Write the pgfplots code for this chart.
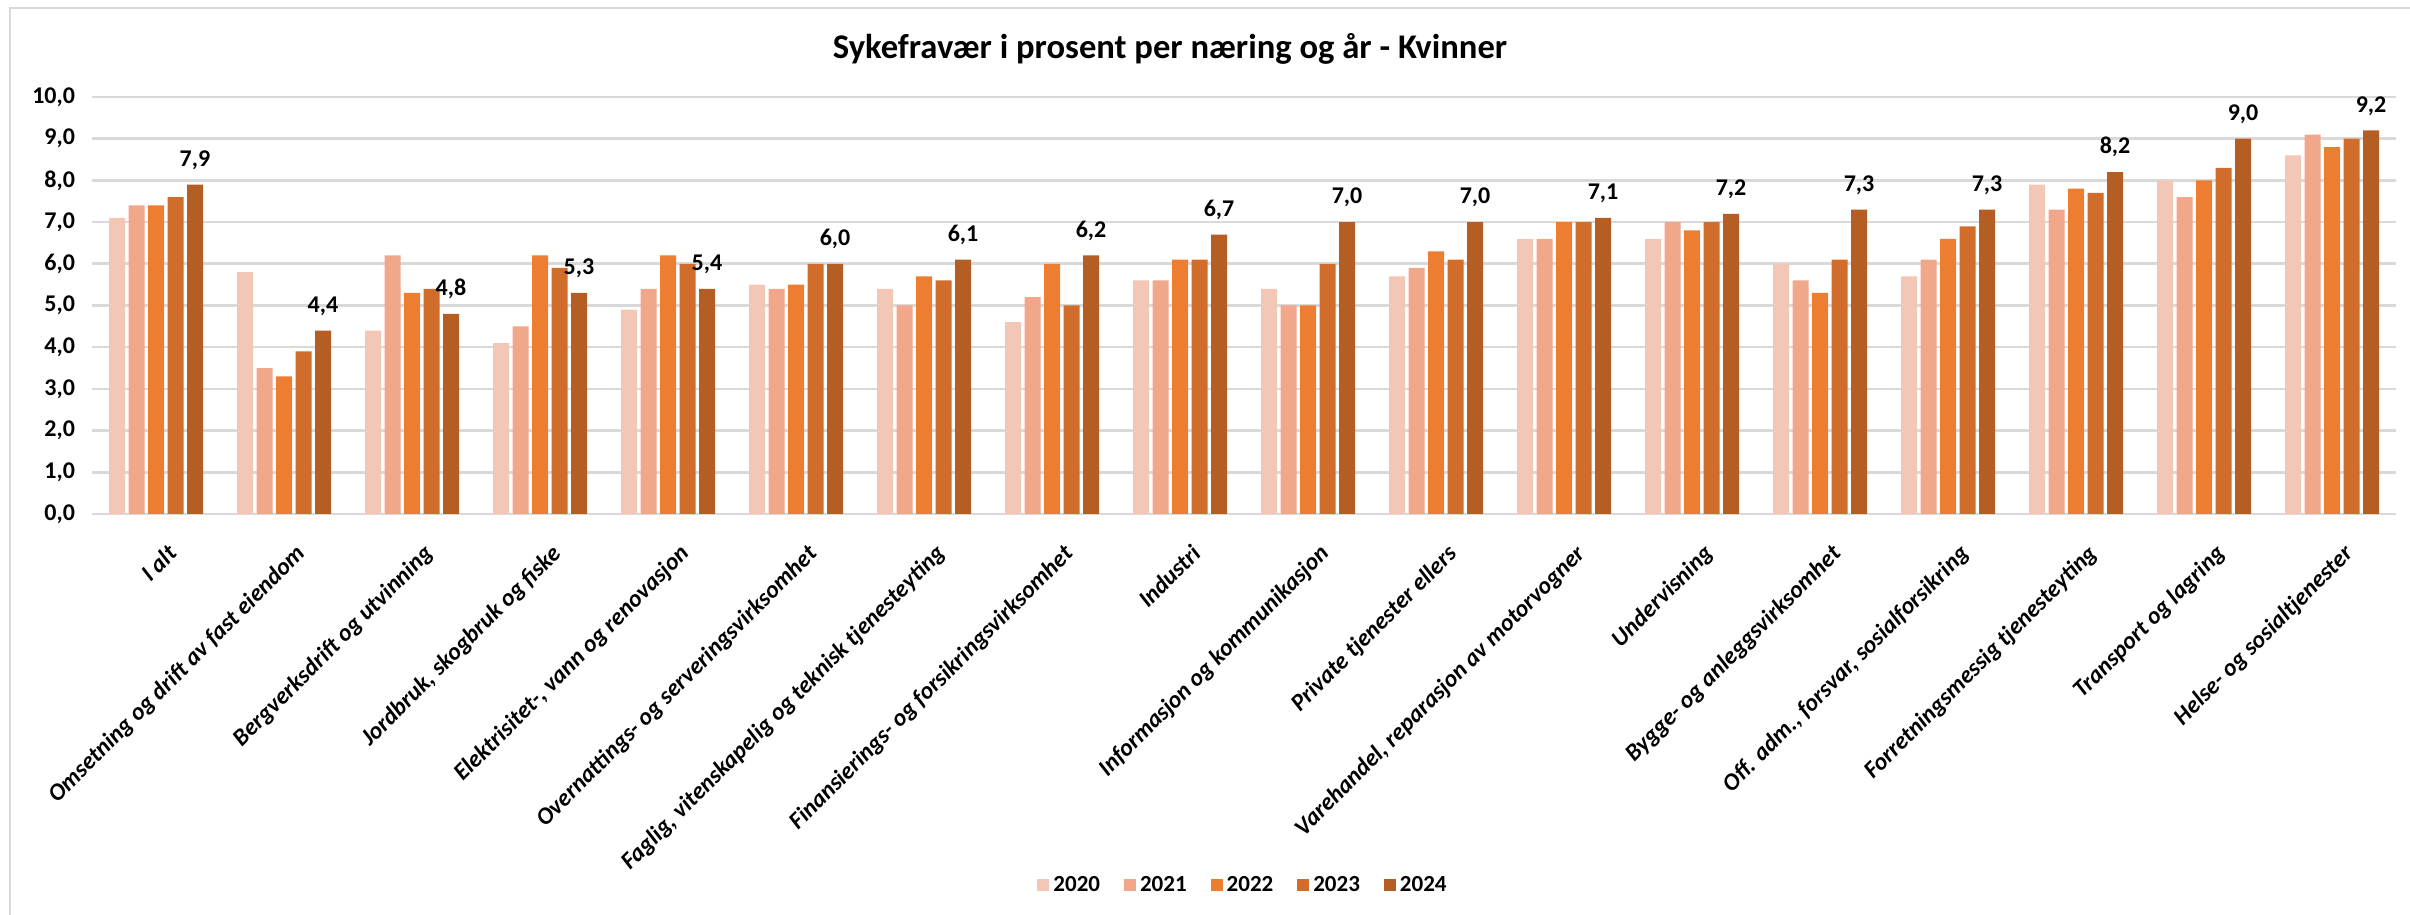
\documentclass[border=0pt]{standalone}
\usepackage{pgfplots}
\pgfplotsset{compat=1.18}
\usepackage{pgfplotstable}
\usepackage{fontspec}
\setmainfont{Carlito}
\definecolor{c20}{HTML}{F4C6B5}
\definecolor{c21}{HTML}{F0A78A}
\definecolor{c22}{HTML}{ED7D31}
\definecolor{c23}{HTML}{D26C2B}
\definecolor{c24}{HTML}{B55E23}
\definecolor{gridgray}{HTML}{D9D9D9}
\pgfplotstableread{
x  a20 a21 a22 a23 a24
0  7.1 7.4 7.4 7.6 7.9
1  5.8 3.5 3.3 3.9 4.4
2  4.4 6.2 5.3 5.4 4.8
3  4.1 4.5 6.2 5.9 5.3
4  4.9 5.4 6.2 6.0 5.4
5  5.5 5.4 5.5 6.0 6.0
6  5.4 5.0 5.7 5.6 6.1
7  4.6 5.2 6.0 5.0 6.2
8  5.6 5.6 6.1 6.1 6.7
9  5.4 5.0 5.0 6.0 7.0
10 5.7 5.9 6.3 6.1 7.0
11 6.6 6.6 7.0 7.0 7.1
12 6.6 7.0 6.8 7.0 7.2
13 6.0 5.6 5.3 6.1 7.3
14 5.7 6.1 6.6 6.9 7.3
15 7.9 7.3 7.8 7.7 8.2
16 8.0 7.6 8.0 8.3 9.0
17 8.6 9.1 8.8 9.0 9.2
}\data
\begin{document}
\begin{tikzpicture}[x=1pt,y=1pt]
\path[use as bounding box] (0,0) rectangle (1205,457.5);
\draw[gridgray, line width=1pt] (5,0) -- (5,453.5) -- (1205,453.5);
\node[font=\bfseries\fontsize{17.3}{20}\selectfont] at (585,433) {Sykefravær i prosent per næring og år - Kvinner};
\begin{axis}[
  at={(46pt,200.5pt)}, anchor=south west,
  scale only axis, width=1152pt, height=208.5pt,
  xmin=-0.5, xmax=17.5, ymin=0, ymax=10,
  ybar=1.75pt, bar width=8pt,
  axis line style={draw=none},
  tick style={draw=none},
  ymajorgrids, grid style={draw=gridgray, line width=1.3pt},
  ytick={0,1,...,10},
  yticklabel style={font=\bfseries\fontsize{12}{14}\selectfont, xshift=-5pt, /pgf/number format/.cd, fixed, fixed zerofill, precision=1, use comma, assume math mode=true},
  xtick={0,...,17},
  xticklabels={I alt, Omsetning og drift av fast eiendom, Bergverksdrift og utvinning, {Jordbruk, skogbruk og fiske}, {Elektrisitet-, vann og renovasjon}, Overnattings- og serveringsvirksomhet, {Faglig, vitenskapelig og teknisk tjenesteyting}, Finansierings- og forsikringsvirksomhet, Industri, Informasjon og kommunikasjon, Private tjenester ellers, {Varehandel, reparasjon av motorvogner}, Undervisning, Bygge- og anleggsvirksomhet, {Off. adm., forsvar, sosialforsikring}, Forretningsmessig tjenesteyting, Transport og lagring, Helse- og sosialtjenester},
  xticklabel style={font=\bfseries\itshape\fontsize{12}{14}\selectfont, xshift=5pt, yshift=-10pt, rotate=45, anchor=north east, inner sep=0pt},
  legend style={at={(0.5,-0.89)}, anchor=center, draw=none, legend columns=5, font=\bfseries\fontsize{11.5}{13}\selectfont, /tikz/every even column/.append style={column sep=10pt}},
  legend image code/.code={\fill[#1,draw=none] (0pt,-3pt) rectangle (6pt,3pt);},
  every axis plot/.append style={draw=none},
]
\addplot[fill=c20] table[x=x,y=a20] {\data};
\addplot[fill=c21] table[x=x,y=a21] {\data};
\addplot[fill=c22] table[x=x,y=a22] {\data};
\addplot[fill=c23] table[x=x,y=a23] {\data};
\addplot[fill=c24, nodes near coords={\pgfmathprintnumber[fixed,fixed zerofill,precision=1,use comma,assume math mode=true]{\pgfplotspointmeta}}, every node near coord/.append style={font=\bfseries\fontsize{12}{14}\selectfont, text=black, yshift=4pt}] table[x=x,y=a24] {\data};
\legend{2020,2021,2022,2023,2024}
\end{axis}
\end{tikzpicture}
\end{document}
